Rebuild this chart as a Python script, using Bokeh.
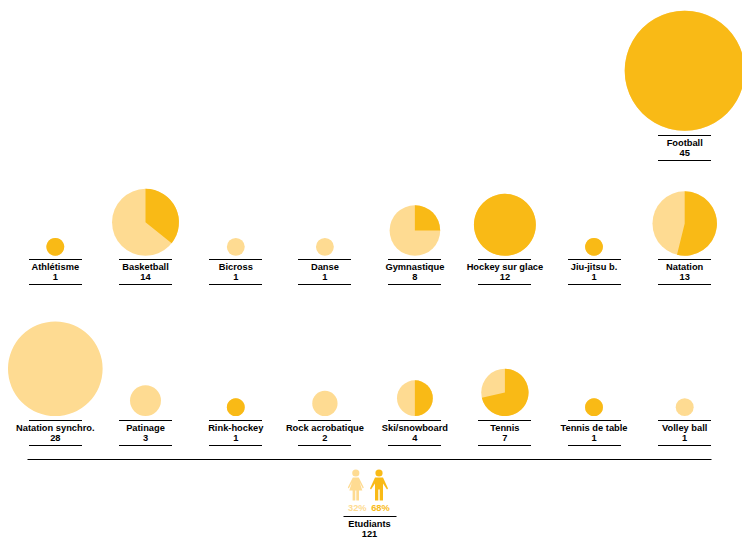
import math
from bokeh.plotting import figure
from bokeh.core.properties import value
from bokeh.embed import file_html
from bokeh.resources import INLINE

# Data
row_top = ["Football"]
row_mid = ["Athlétisme", "Basketball", "Bicross", "Danse", "Gymnastique", "Hockey sur glace", "Jiu-jitsu b.", "Natation"]
row_mid_total = [1, 14, 1, 1, 8, 12, 1, 13]
row_mid_men = [1, 5, 0, 0, 2, 12, 1, 7]
row_low = ["Natation synchro.", "Patinage", "Rink-hockey", "Rock acrobatique", "Ski/snowboard", "Tennis", "Tennis de table", "Volley ball"]
row_low_total = [28, 3, 1, 2, 4, 7, 1, 1]
row_low_men = [0, 0, 1, 0, 2, 5, 1, 0]
football_total = [45]
football_men = [45]
students_label = "Etudiants"
students_total = 121
share_labels = ["32%", "68%"]

# Style / layout
DARK = "#F9BA16"
LIGHT = "#FEDB92"
FONT = value("Liberation Sans")
SIZE = "9.3px"
K = 60 / math.sqrt(45)
COLS = [54.8, 145, 235.3, 324.4, 414.4, 504.4, 593.5, 684.2]

p = figure(width=742, height=539, x_range=(0, 742), y_range=(539, 0),
           output_backend="svg", toolbar_location=None, min_border=0,
           outline_line_color=None, background_fill_color="white")
p.axis.visible = False
p.grid.visible = False


def draw_row(names, totals, men, cols, base, line_top):
    radius = [K * math.sqrt(t) for t in totals]
    cy = [base - r for r in radius]
    share = [m / t for m, t in zip(men, totals)]
    p.circle(x=cols, y=cy, radius=radius, fill_color=LIGHT, line_color=None)
    dark = [i for i, s in enumerate(share) if s > 0]
    p.wedge(x=[cols[i] for i in dark], y=[cy[i] for i in dark], radius=[radius[i] for i in dark],
            start_angle=[math.pi / 2 for i in dark],
            end_angle=[math.pi / 2 - 2 * math.pi * min(share[i], 0.99999) for i in dark],
            direction="clock", fill_color=DARK, line_color=None)
    x0 = [round(c) - 26.5 for c in cols]
    x1 = [round(c) + 26.5 for c in cols]
    p.segment(x0=x0, x1=x1, y0=[line_top] * len(cols), y1=[line_top] * len(cols), line_color="black", line_width=1)
    p.segment(x0=x0, x1=x1, y0=[line_top + 25] * len(cols), y1=[line_top + 25] * len(cols), line_color="black", line_width=1)
    p.text(x=cols, y=[line_top + 7.5] * len(cols), text=names, text_align="center", text_baseline="middle",
           text_font=FONT, text_font_size=SIZE, text_font_style="bold", text_color="black")
    p.text(x=cols, y=[line_top + 17] * len(cols), text=[str(t) for t in totals], text_align="center",
           text_baseline="middle", text_font=FONT, text_font_size=SIZE, text_font_style="bold", text_color="black")


draw_row(row_top, football_total, football_men, [COLS[7]], 130.3, 135)
draw_row(row_mid, row_mid_total, row_mid_men, COLS, 255.3, 259)
draw_row(row_low, row_low_total, row_low_men, COLS, 415.6, 420)

# Rule
p.segment(x0=[27], x1=[711], y0=[459], y1=[459], line_color="black", line_width=1)

# Woman icon
wx, mx = 355.3, 378.5
p.circle(x=[wx], y=[472.5], radius=3.6, fill_color=LIGHT, line_color=None)
p.patch(x=[wx + d for d in [-3, 3, 8, 7, 4, 6.5, 3.2, 3.2, 0.5, 0.5, -0.5, -0.5, -3.2, -3.2, -6.5, -4, -7, -8]],
        y=[477, 477, 487, 488, 482, 490, 490, 500, 500, 490, 490, 500, 500, 490, 490, 482, 488, 487],
        fill_color=LIGHT, line_color=None)
# Man icon
p.circle(x=[mx], y=[472.5], radius=3.6, fill_color=DARK, line_color=None)
p.patch(x=[mx + d for d in [-4, 4, 9, 8, 4, 4, 0.7, 0.7, -0.7, -0.7, -4, -4, -8, -9]],
        y=[477, 477, 488, 489, 483, 500, 500, 489, 489, 500, 500, 483, 489, 488],
        fill_color=DARK, line_color=None)
p.text(x=[wx + 1.5, mx + 1.5], y=[507.5, 507.5], text=share_labels, text_align="center", text_baseline="middle",
       text_color=[LIGHT, DARK], text_font=FONT, text_font_size=SIZE, text_font_style="bold")

# Students label
p.segment(x0=[343], x1=[396], y0=[516], y1=[516], line_color="black", line_width=1)
p.text(x=[369, 369], y=[523.5, 533.5], text=[students_label, str(students_total)], text_align="center",
       text_baseline="middle", text_font=FONT, text_font_size=SIZE, text_font_style="bold", text_color="black")

open("out.html", "w").write(file_html(p, INLINE))
